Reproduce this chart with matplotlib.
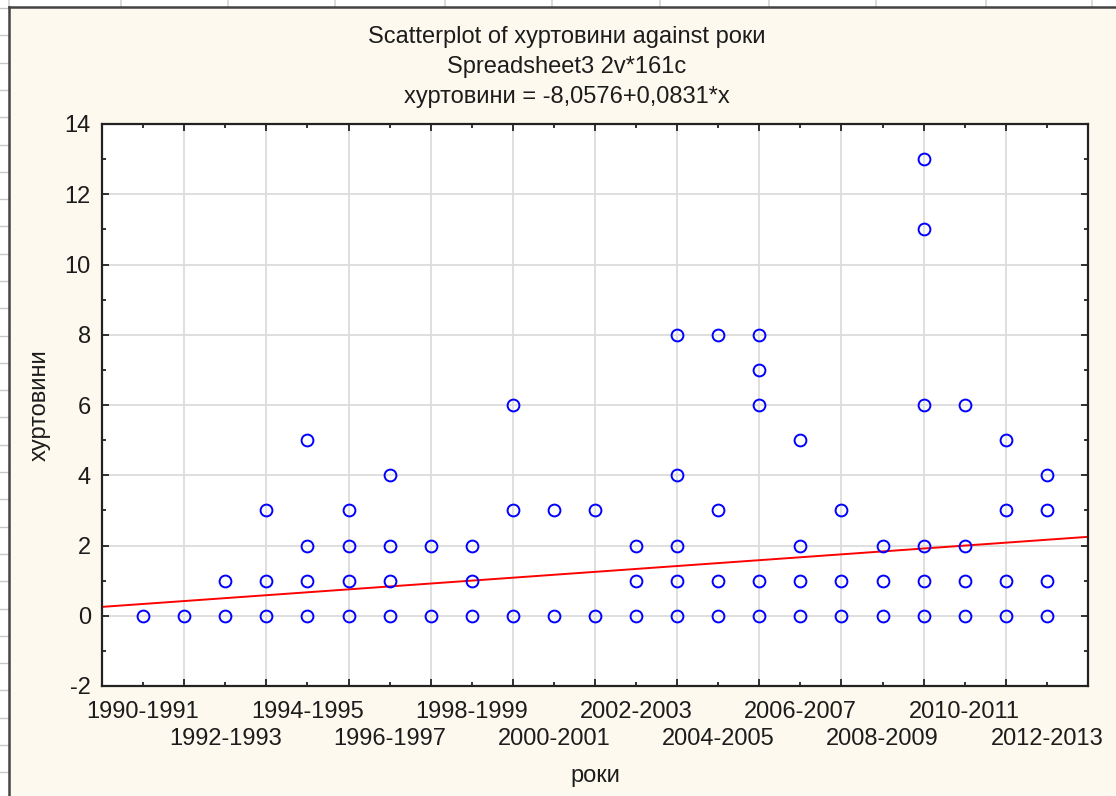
import numpy as np
import matplotlib
matplotlib.use("Agg")
import matplotlib.pyplot as plt
from matplotlib.lines import Line2D
from matplotlib.patches import Rectangle

plt.rcParams['font.family'] = ['Liberation Sans', 'DejaVu Sans']
plt.rcParams['axes.unicode_minus'] = False

# seasons on the x axis (category index 1..23)
seasons = ["1990-1991", "1991-1992", "1992-1993", "1993-1994", "1994-1995",
           "1995-1996", "1996-1997", "1997-1998", "1998-1999", "1999-2000",
           "2000-2001", "2001-2002", "2002-2003", "2003-2004", "2004-2005",
           "2005-2006", "2006-2007", "2007-2008", "2008-2009", "2009-2010",
           "2010-2011", "2011-2012", "2012-2013"]

# distinct values of "хуртовини" seen in each season
storms = [
    [0],
    [0],
    [0, 1],
    [0, 1, 3],
    [0, 1, 2, 5],
    [0, 1, 2, 3],
    [0, 1, 2, 4],
    [0, 2],
    [0, 1, 2],
    [0, 3, 6],
    [0, 3],
    [0, 3],
    [0, 1, 2],
    [0, 1, 2, 4, 8],
    [0, 1, 3, 8],
    [0, 1, 6, 7, 8],
    [0, 1, 2, 5],
    [0, 1, 3],
    [0, 1, 2],
    [0, 1, 2, 6, 11, 13],
    [0, 1, 2, 6],
    [0, 1, 3, 5],
    [0, 1, 3, 4],
]

# fitted line: хуртовини = a + b*x, x = 100 + category index
a, b = -8.0576, 0.0831
x_offset = 100

bg = "#fef9ee"
txt = "#1c1c1c"

fig = plt.figure(figsize=(11.16, 7.96), dpi=100)
fig.patch.set_facecolor("white")

# spreadsheet look behind the graph window
W, H = 1116, 796
fig.patches.append(Rectangle((10 / W, 0), 1, 1 - 8 / H, transform=fig.transFigure,
                             facecolor=bg, edgecolor="none", zorder=-10))
for xc in [9, 121, 228, 335, 445, 552, 660, 769, 876, 986, 1092]:
    fig.lines.append(Line2D([xc / W, xc / W], [1 - 7 / H, 1], transform=fig.transFigure,
                            color="#d4d4d4", lw=1.2, zorder=-9))
for yr in np.arange(8, 796, 27.3):
    fig.lines.append(Line2D([0, 8 / W], [1 - yr / H, 1 - yr / H], transform=fig.transFigure,
                            color="#c8c8c8", lw=1.0, zorder=-9))
fig.lines.append(Line2D([9 / W, 1], [1 - 7 / H, 1 - 7 / H], transform=fig.transFigure,
                        color="#444444", lw=1.8, zorder=-8))
fig.lines.append(Line2D([9 / W, 9 / W], [0, 1 - 7 / H], transform=fig.transFigure,
                        color="#444444", lw=1.8, zorder=-8))

ax = fig.add_axes([102 / W, 1 - 686 / H, (1088 - 102) / W, (686 - 124) / H])
ax.set_facecolor("white")

for i, vals in enumerate(storms, start=1):
    ax.plot([i] * len(vals), vals, linestyle="none", marker="o", markersize=8.5,
            markerfacecolor="none", markeredgecolor="#0000ff", markeredgewidth=1.4,
            zorder=3)

xl = np.array([0, len(seasons) + 1])
ax.plot(xl, a + b * (xl + x_offset), color="#ff0000", lw=1.4, zorder=2)

ax.set_xlim(0, len(seasons) + 1)
ax.set_ylim(-2, 14)

# gridlines/major ticks at even positions, labels on the odd ones
ax.set_xticks(np.arange(2, len(seasons) + 1, 2))
ax.set_xticklabels([])
odd = np.arange(1, len(seasons) + 1, 2)
ax.set_xticks(odd, [seasons[i - 1] for i in odd], minor=True)

ax.set_yticks(np.arange(-2, 15, 2))
ax.set_yticks(np.arange(-1, 14, 2), minor=True)

ax.grid(True, which="major", color="#dcdcdc", lw=1.3, zorder=0)
ax.set_axisbelow(True)

fs = 17
ax.tick_params(which="both", direction="in", top=True, right=True, colors="#222222",
               labelcolor=txt, labelsize=fs, pad=8)
ax.tick_params(which="major", length=5, width=1.3)
ax.tick_params(which="minor", length=3, width=1.3)
ax.tick_params(axis="x", which="minor", pad=11)

# two staggered rows of season labels
for k, t in enumerate(ax.xaxis.get_minor_ticks()):
    if k % 2 == 1:
        t.set_pad(11 + 19)

for s in ax.spines.values():
    s.set_linewidth(1.6)
    s.set_color("#222222")

ax.set_xlabel("роки", fontsize=fs, color=txt, labelpad=11)
ax.set_ylabel("хуртовини", fontsize=fs, color=txt, labelpad=10)

tx = 567 / W
fig.text(tx, 1 - 37 / H, "Scatterplot of хуртовини against роки", ha="center", va="center",
         fontsize=17, color=txt)
fig.text(tx, 1 - 67 / H, "Spreadsheet3 2v*161c", ha="center", va="center",
         fontsize=17, color=txt)
fig.text(tx, 1 - 97 / H, "хуртовини = -8,0576+0,0831*x", ha="center", va="center",
         fontsize=17, color=txt)

fig.savefig("out.png", dpi=100, facecolor=fig.get_facecolor())
